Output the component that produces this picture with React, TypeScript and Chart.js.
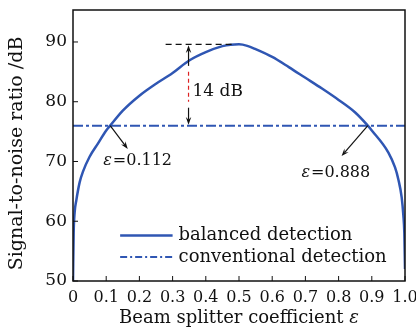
import React, { useEffect, useRef } from 'react';
import { Chart, registerables } from 'chart.js';

Chart.register(...registerables);

// ---- data ----
const epsilon = [0, 0.002, 0.005, 0.01, 0.02, 0.03, 0.05, 0.075, 0.1, 0.112, 0.15, 0.2, 0.25, 0.3, 0.35, 0.4, 0.45, 0.475, 0.5, 0.525, 0.55, 0.6, 0.65, 0.7, 0.75, 0.8, 0.85, 0.888, 0.9, 0.95, 0.97, 0.98, 0.99, 0.995, 0.998, 1.0];
const balancedSNR = [50, 58, 61.5, 63.5, 66.5, 68.3, 70.8, 73, 75.2, 76, 78.5, 81, 83, 84.8, 86.9, 88.3, 89.3, 89.55, 89.6, 89.35, 88.8, 87.5, 85.8, 84.0, 82.2, 80.3, 78.2, 76, 75.2, 71.5, 69, 67, 64, 61, 58, 52];
const conventionalEps = [0, 1];
const conventionalSNR = [76, 76];
const xTickValues = [0, 0.1, 0.2, 0.3, 0.4, 0.5, 0.6, 0.7, 0.8, 0.9, 1.0];
const yTickValues = [50, 60, 70, 80, 90];
const seriesNames = ['balanced detection', 'conventional detection'];
const crossLeft = 0.112;
const crossRight = 0.888;
const peakSNR = 89.6;
const gapLabel = '14 dB';

const BLUE = '#2f56b3';
const FONT = '"DejaVu Serif", serif';

function arrow(ctx: CanvasRenderingContext2D, x1: number, y1: number, x2: number, y2: number, head = 8) {
  const ang = Math.atan2(y2 - y1, x2 - x1);
  ctx.beginPath();
  ctx.moveTo(x1, y1);
  ctx.lineTo(x2 - Math.cos(ang) * head * 0.6, y2 - Math.sin(ang) * head * 0.6);
  ctx.stroke();
  ctx.beginPath();
  ctx.moveTo(x2, y2);
  ctx.lineTo(x2 - head * Math.cos(ang - 0.35), y2 - head * Math.sin(ang - 0.35));
  ctx.lineTo(x2 - head * 0.6 * Math.cos(ang), y2 - head * 0.6 * Math.sin(ang));
  ctx.lineTo(x2 - head * Math.cos(ang + 0.35), y2 - head * Math.sin(ang + 0.35));
  ctx.closePath();
  ctx.fill();
}

function epsText(ctx: CanvasRenderingContext2D, x: number, y: number, value: string, size: number) {
  ctx.textBaseline = 'middle';
  ctx.textAlign = 'left';
  ctx.font = `italic ${size}px ${FONT}`;
  ctx.fillText('ε', x, y);
  const w = ctx.measureText('ε').width;
  ctx.font = `${size}px ${FONT}`;
  ctx.fillText('=' + value, x + w + 1, y);
}

const decorPlugin = {
  id: 'decor',
  afterDatasetsDraw(chart: any) {
    const { ctx, chartArea, scales } = chart;
    const xs = scales.x;
    const ys = scales.y;
    const X = (v: number) => xs.getPixelForValue(v);
    const Y = (v: number) => ys.getPixelForValue(v);
    ctx.save();
    // frame
    ctx.strokeStyle = '#111';
    ctx.lineWidth = 1.5;
    ctx.strokeRect(chartArea.left, chartArea.top, chartArea.right - chartArea.left, chartArea.bottom - chartArea.top);
    // inward ticks
    ctx.lineWidth = 1;
    ctx.beginPath();
    xTickValues.forEach((v) => {
      ctx.moveTo(X(v), chartArea.bottom);
      ctx.lineTo(X(v), chartArea.bottom - 5);
    });
    yTickValues.forEach((v) => {
      ctx.moveTo(chartArea.left, Y(v));
      ctx.lineTo(chartArea.left + 5, Y(v));
    });
    ctx.stroke();

    ctx.fillStyle = '#111';
    ctx.strokeStyle = '#111';
    ctx.lineWidth = 1.2;
    // left crossing arrow
    arrow(ctx, X(crossLeft), Y(76), X(0.165), Y(72.1));
    epsText(ctx, X(0.091), Y(70.1), String(crossLeft), 16);
    // right crossing arrow
    arrow(ctx, X(crossRight), Y(76), X(0.809), Y(70.9));
    epsText(ctx, X(0.688), Y(68.1), String(crossRight), 16);

    // peak dashed line
    ctx.setLineDash([6, 4]);
    ctx.beginPath();
    ctx.moveTo(X(0.279), Y(peakSNR));
    ctx.lineTo(X(0.49), Y(peakSNR));
    ctx.stroke();
    ctx.setLineDash([]);
    // vertical double arrow
    const ax = X(0.348);
    arrow(ctx, ax, Y(86.0), ax, Y(peakSNR) + 1, 8);
    arrow(ctx, ax, Y(79.0), ax, Y(76) - 1, 8);
    ctx.strokeStyle = '#d22';
    ctx.setLineDash([4, 3]);
    ctx.beginPath();
    ctx.moveTo(ax, Y(85.0));
    ctx.lineTo(ax, Y(80.0));
    ctx.stroke();
    ctx.setLineDash([]);
    ctx.fillStyle = '#111';
    ctx.font = `17px ${FONT}`;
    ctx.textAlign = 'left';
    ctx.textBaseline = 'middle';
    ctx.fillText(gapLabel, X(0.36), Y(81.7));

    // legend
    const lx1 = X(0.142);
    const lx2 = X(0.30);
    const rows = [Y(57.6), Y(54.0)];
    ctx.strokeStyle = BLUE;
    ctx.lineWidth = 2.5;
    ctx.beginPath();
    ctx.moveTo(lx1, rows[0]);
    ctx.lineTo(lx2, rows[0]);
    ctx.stroke();
    ctx.lineWidth = 2;
    ctx.setLineDash([7, 3, 2, 3]);
    ctx.beginPath();
    ctx.moveTo(lx1, rows[1]);
    ctx.lineTo(lx2, rows[1]);
    ctx.stroke();
    ctx.setLineDash([]);
    ctx.fillStyle = '#111';
    ctx.font = `18px ${FONT}`;
    seriesNames.forEach((n, i) => ctx.fillText(n, X(0.318), rows[i]));

    // axis titles
    const xt = 'Beam splitter coefficient ';
    ctx.font = `italic 18px ${FONT}`;
    const we = ctx.measureText('ε').width;
    ctx.font = `18px ${FONT}`;
    const wt = ctx.measureText(xt).width;
    const cx = (chartArea.left + chartArea.right) / 2;
    const startX = cx - (wt + we) / 2;
    ctx.textAlign = 'left';
    ctx.textBaseline = 'middle';
    ctx.fillText(xt, startX, 318);
    ctx.font = `italic 18px ${FONT}`;
    ctx.fillText('ε', startX + wt, 318);

    ctx.save();
    ctx.translate(17, (chartArea.top + chartArea.bottom) / 2 + 8);
    ctx.rotate(-Math.PI / 2);
    ctx.textAlign = 'center';
    ctx.textBaseline = 'middle';
    ctx.font = `19px ${FONT}`;
    ctx.fillText('Signal-to-noise ratio /dB', 0, 0);
    ctx.restore();

    ctx.restore();
  },
};

export default function App() {
  const ref = useRef<HTMLCanvasElement | null>(null);
  useEffect(() => {
    document.body.style.margin = '0';
    const canvas = ref.current!;
    const chart = new Chart(canvas, {
      type: 'line',
      data: {
        datasets: [
          {
            label: seriesNames[0],
            data: epsilon.map((e, i) => ({ x: e, y: balancedSNR[i] })),
            borderColor: BLUE,
            borderWidth: 2.5,
            pointRadius: 0,
            cubicInterpolationMode: 'monotone',
            fill: false,
          },
          {
            label: seriesNames[1],
            data: conventionalEps.map((e, i) => ({ x: e, y: conventionalSNR[i] })),
            borderColor: BLUE,
            borderWidth: 2,
            borderDash: [10, 3, 3, 3],
            pointRadius: 0,
            fill: false,
          },
        ],
      },
      options: {
        responsive: false,
        animation: false,
        events: [],
        layout: { padding: { top: 10, right: 11, left: 0, bottom: 0 } },
        plugins: { legend: { display: false }, tooltip: { enabled: false } },
        scales: {
          x: {
            type: 'linear',
            min: 0,
            max: 1,
            grid: { display: false, drawTicks: false },
            border: { display: false },
            afterBuildTicks: (s: any) => {
              s.ticks = xTickValues.map((v) => ({ value: v }));
            },
            afterFit: (s: any) => {
              s.height = 48;
              s.paddingLeft = 0;
              s.paddingRight = 0;
            },
            ticks: {
              color: '#111',
              padding: 7,
              maxRotation: 0,
              autoSkip: false,
              font: { family: FONT, size: 16 },
              callback: (v: any) => (v === 0 ? '0' : Number(v).toFixed(1)),
            },
          },
          y: {
            type: 'linear',
            min: 50,
            max: 95.35,
            grid: { display: false, drawTicks: false },
            border: { display: false },
            afterBuildTicks: (s: any) => {
              s.ticks = yTickValues.map((v) => ({ value: v }));
            },
            afterFit: (s: any) => {
              s.width = 73;
              s.paddingTop = 0;
              s.paddingBottom = 0;
            },
            ticks: {
              color: '#111',
              padding: 6,
              font: { family: FONT, size: 17 },
            },
          },
        },
      },
      plugins: [decorPlugin],
    } as any);
    return () => chart.destroy();
  }, []);
  return <canvas ref={ref} width={416} height={329} style={{ display: 'block' }} />;
}
